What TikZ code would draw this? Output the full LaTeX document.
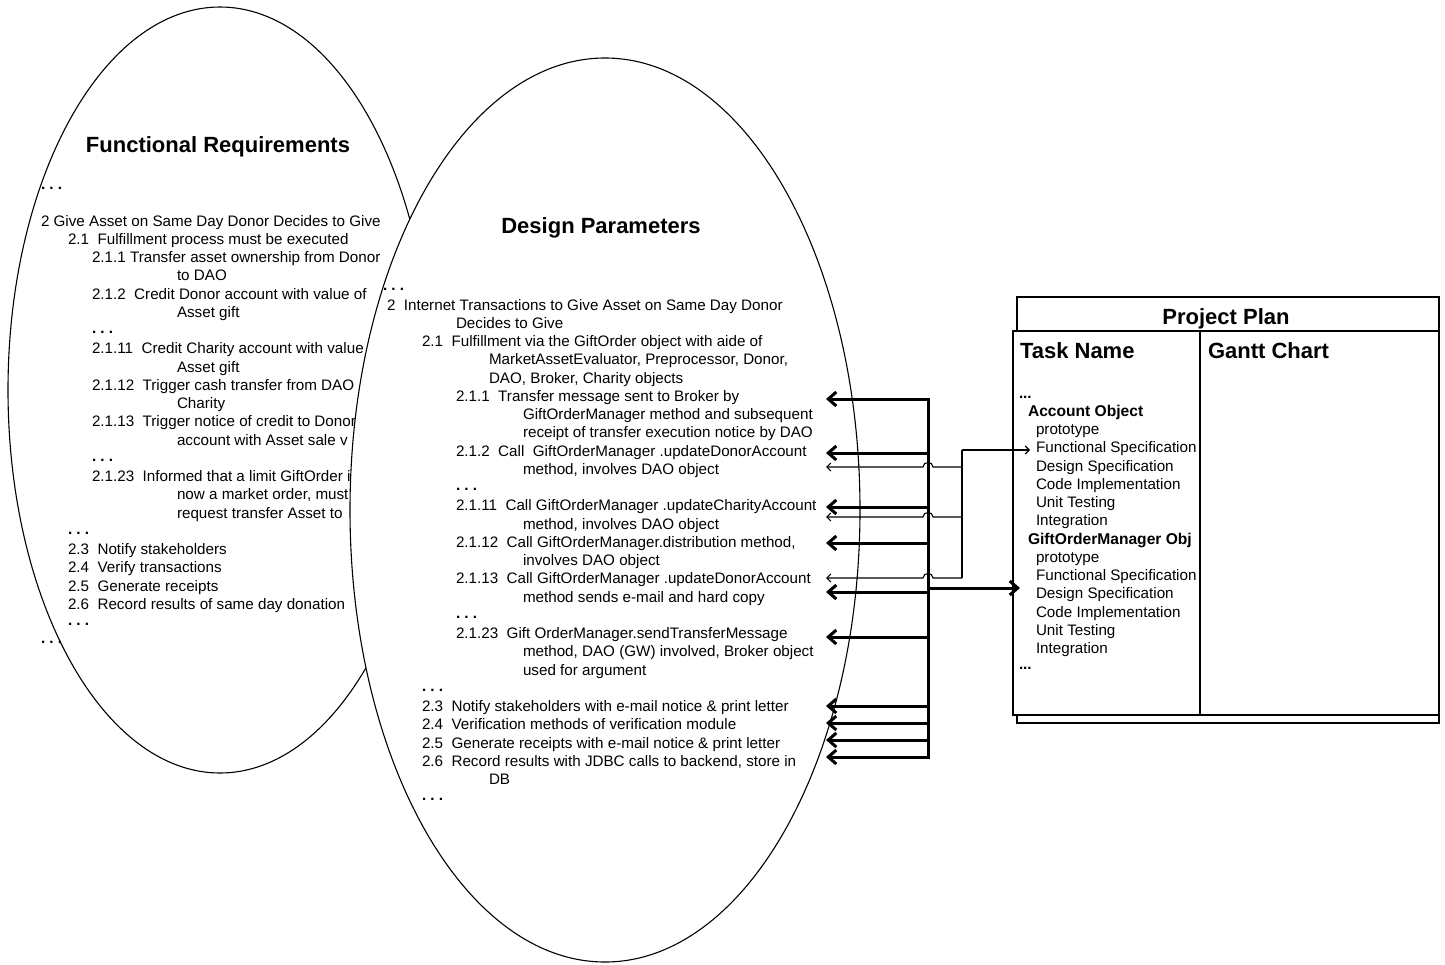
\documentclass[tikz,border=0pt]{standalone}
\usepackage{fontspec}
\setmainfont{Liberation Sans}
\usetikzlibrary{shapes.geometric,arrows.meta,calc}
\tikzset{
  txt/.style={anchor=base west, inner sep=0pt, outer sep=0pt, font=\fontsize{15.2}{18}\selectfont},
  btxt/.style={anchor=base west, inner sep=0pt, outer sep=0pt, font=\fontsize{15.6}{18}\selectfont\bfseries},
  ttl/.style={anchor=base, inner sep=0pt, outer sep=0pt, font=\fontsize{22}{26}\selectfont\bfseries},
  ttlw/.style={ttl, anchor=base west},
  oval/.style={ellipse, draw, line width=1.1pt, fill=white, inner sep=0pt},
  frame/.style={draw, line width=1.2pt, fill=white},
  frameline/.style={line width=1.2pt},
  thk/.style={line width=3pt, line join=miter},
  thkarr/.style={thk, -{Straight Barb[length=8pt,width=14pt]}},
  thkboth/.style={thk, {Straight Barb[length=8pt,width=14pt]}-{Straight Barb[length=8pt,width=14pt]}},
  thn/.style={line width=1.1pt},
  thnarr/.style={thn, -{Straight Barb[length=4pt,width=8pt]}},
}
\newcommand\dts{\textbf{.\ .\ .}}
\newcommand\fl[4]{\node[txt] (#1) at (#2,{226+18.25*(#3)}) {#4};}
\newcommand\fd[3]{\node[txt] (#1) at (#2,{224+18.25*(#3)}) {\dts};}
\newcommand\dl[4]{\node[txt] (#1) at (#2,{310+18.25*(#3)}) {#4};}
\newcommand\dd[3]{\node[txt] (#1) at (#2,{308+18.25*(#3)}) {\dts};}
\newcommand\pl[4]{\node[txt] (#1) at (#2,{416.5+18.23*(#3)}) {#4};}
\begin{document}
\begin{tikzpicture}[x=1pt,y=-1pt]
\useasboundingbox (0,0) rectangle (1445,964);

% ---------- Functional Requirements ellipse ----------
\node[oval, minimum width=424pt, minimum height=766pt] (fr) at (220,390) {};
\node[ttl] (frtitle) at (218,152) {Functional Requirements};
\node[txt] (fdot0) at (41,189) {\dts};
\fl{f0}{41}{0}{2 Give Asset on Same Day Donor Decides to Give}
\fl{f1}{68}{1}{2.1\ \ Fulfillment process must be executed}
\fl{f2}{92}{2}{2.1.1 Transfer asset ownership from Donor}
\fl{f3}{177}{3}{to DAO}
\fl{f4}{92}{4}{2.1.2\ \ Credit Donor account with value of}
\fl{f5}{177}{5}{Asset gift}
\fd{f6}{92}{6}
\fl{f7}{92}{7}{2.1.11\ \ Credit Charity account with value}
\fl{f8}{177}{8}{Asset gift}
\fl{f9}{92}{9}{2.1.12\ \ Trigger cash transfer from DAO}
\fl{f10}{177}{10}{Charity}
\fl{f11}{92}{11}{2.1.13\ \ Trigger notice of credit to Donor}
\fl{f12}{177}{12}{account with Asset sale v}
\fd{f13}{92}{13}
\fl{f14}{92}{14}{2.1.23\ \ Informed that a limit GiftOrder is}
\fl{f15}{177}{15}{now a market order, must}
\fl{f16}{177}{16}{request transfer Asset to}
\fd{f17}{68}{17}
\fl{f18}{68}{18}{2.3\ \ Notify stakeholders}
\fl{f19}{68}{19}{2.4\ \ Verify transactions}
\fl{f20}{68}{20}{2.5\ \ Generate receipts}
\fl{f21}{68}{21}{2.6\ \ Record results of same day donation}
\fd{f22}{68}{22}
\fd{f23}{41}{23}

% ---------- Design Parameters ellipse ----------
\node[oval, minimum width=510pt, minimum height=904pt] (dp) at (605,510) {};
\node[ttl] (dptitle) at (601,233) {Design Parameters};
\node[txt] (ddot0) at (383,290) {\dts};
\dl{d0}{387}{0}{2\ \ Internet Transactions to Give Asset on Same Day Donor}
\dl{d1}{456}{1}{Decides to Give}
\dl{d2}{422}{2}{2.1\ \ Fulfillment via the GiftOrder object with aide of}
\dl{d3}{489}{3}{MarketAssetEvaluator, Preprocessor, Donor,}
\dl{d4}{489}{4}{DAO, Broker, Charity objects}
\dl{d5}{456}{5}{2.1.1\ \ Transfer message sent to Broker by}
\dl{d6}{523}{6}{GiftOrderManager method and subsequent}
\dl{d7}{523}{7}{receipt of transfer execution notice by DAO}
\dl{d8}{456}{8}{2.1.2\ \ Call\ \ GiftOrderManager .updateDonorAccount}
\dl{d9}{523}{9}{method, involves DAO object}
\dd{d10}{456}{10}
\dl{d11}{456}{11}{2.1.11\ \ Call GiftOrderManager .updateCharityAccount}
\dl{d12}{523}{12}{method, involves DAO object}
\dl{d13}{456}{13}{2.1.12\ \ Call GiftOrderManager.distribution method,}
\dl{d14}{523}{14}{involves DAO object}
\dl{d15}{456}{15}{2.1.13\ \ Call GiftOrderManager .updateDonorAccount}
\dl{d16}{523}{16}{method sends e-mail and hard copy}
\dd{d17}{456}{17}
\dl{d18}{456}{18}{2.1.23\ \ Gift OrderManager.sendTransferMessage}
\dl{d19}{523}{19}{method, DAO (GW) involved, Broker object}
\dl{d20}{523}{20}{used for argument}
\dd{d21}{422}{21}
\dl{d22}{422}{22}{2.3\ \ Notify stakeholders with e-mail notice \& print letter}
\dl{d23}{422}{23}{2.4\ \ Verification methods of verification module}
\dl{d24}{422}{24}{2.5\ \ Generate receipts with e-mail notice \& print letter}
\dl{d25}{422}{25}{2.6\ \ Record results with JDBC calls to backend, store in}
\dl{d26}{489}{26}{DB}
\dd{d27}{422}{27}

% ---------- Project Plan ----------
\draw[frame] (1017,297) rectangle (1439,723);
\node[ttl] (pptitle) at (1226,324) {Project Plan};
\draw[frame] (1013,331) rectangle (1439,715);
\draw[frameline] (1200,331) -- (1200,715);
\node[ttlw] (taskname) at (1020,358) {Task Name};
\node[ttlw] (gantt) at (1208,358) {Gantt Chart};
\begin{scope}
\clip (1013,331) rectangle (1199.3,715);
\node[txt] (pdot0) at (1019,398) {\textbf{...}};
\node[btxt] (p0) at (1028,416.5) {Account Object};
\pl{p1}{1036}{1}{prototype}
\pl{p2}{1036}{2}{Functional Specification}
\pl{p3}{1036}{3}{Design Specification}
\pl{p4}{1036}{4}{Code Implementation}
\pl{p5}{1036}{5}{Unit Testing}
\pl{p6}{1036}{6}{Integration}
\node[btxt] (p7) at (1028,{416.5+18.23*7}) {GiftOrderManager Obj};
\pl{p8}{1036}{8}{prototype}
\pl{p9}{1036}{9}{Functional Specification}
\pl{p10}{1036}{10}{Design Specification}
\pl{p11}{1036}{11}{Code Implementation}
\pl{p12}{1036}{12}{Unit Testing}
\pl{p13}{1036}{13}{Integration}
\node[txt] (pdot1) at (1019,669) {\textbf{...}};
\end{scope}

% ---------- Connectors ----------
\coordinate (tr211) at (928,399);
\coordinate (a211) at (826,399);
\coordinate (a212) at (826,453);
\coordinate (a2111) at (826,507);
\coordinate (a2112) at (826,543);
\coordinate (a2113) at (826,592);
\coordinate (a2123) at (826,637);
\coordinate (a23) at (826,706);
\coordinate (a24) at (826,723);
\coordinate (a25) at (826,740);
\coordinate (a26) at (826,757);
\coordinate (pp) at (1020,588);

\draw[thkboth] (a26) -| (tr211) -- (a211);
\foreach \t in {a212,a2111,a2112,a2113,a2123,a23,a24,a25}
  \draw[thkarr] (\t -| tr211) -- (\t);
\draw[thkarr] (pp -| tr211) -- (pp);

% thin links to Functional Specification
\coordinate (ts) at (962,450);
\coordinate (fs) at (1030,450);
\coordinate (b212) at (826,467);
\coordinate (b2111) at (826,517);
\coordinate (b2113) at (826,578);
\draw[thnarr] (ts) -- (fs);
\draw[thn] (ts) -- (b2113 -| ts);
\foreach \b in {b212,b2111,b2113}{
  \coordinate (hr) at ($(\b -| tr211)+(5,0)$);
  \coordinate (hl) at ($(\b -| tr211)+(-5,0)$);
  \draw[thnarr] (\b -| ts) -- (hr) .. controls +(0,-6) and +(0,-6) .. (hl) -- (\b);
}
\end{tikzpicture}
\end{document}
